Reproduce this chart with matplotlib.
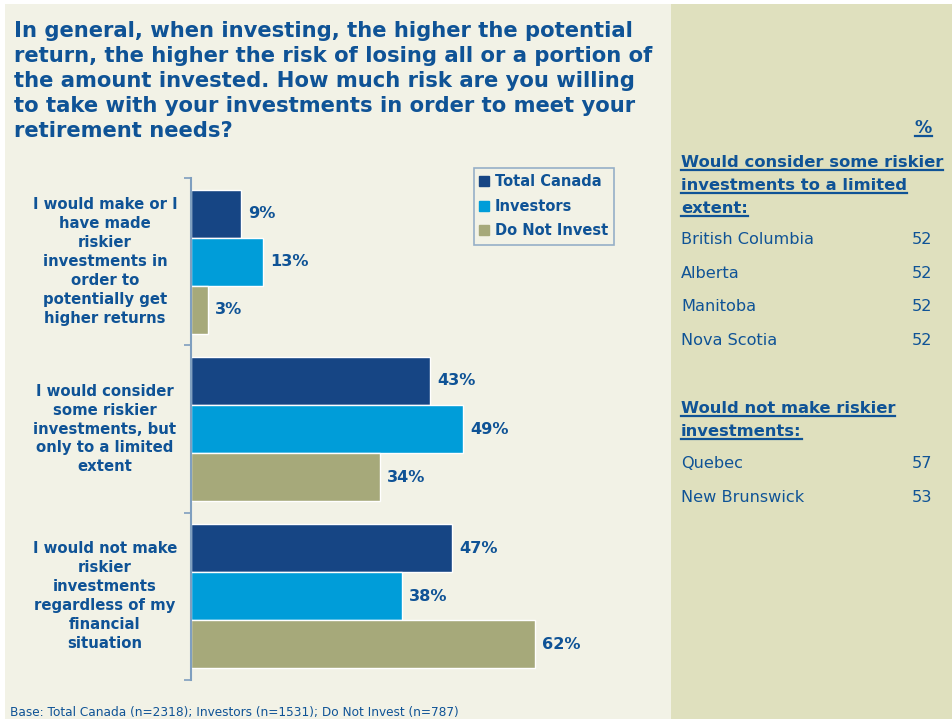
import matplotlib
matplotlib.use("Agg")
import matplotlib.pyplot as plt
import matplotlib.transforms as mtransforms
from matplotlib.patches import Rectangle
from matplotlib.lines import Line2D
import numpy as np

# ---- data ----
categories = [
    "I would make or I\nhave made\nriskier\ninvestments in\norder to\npotentially get\nhigher returns",
    "I would consider\nsome riskier\ninvestments, but\nonly to a limited\nextent",
    "I would not make\nriskier\ninvestments\nregardless of my\nfinancial\nsituation",
]
series_names = ["Total Canada", "Investors", "Do Not Invest"]
total_canada = [9, 43, 47]
investors = [13, 49, 38]
do_not_invest = [3, 34, 62]

title_lines = [
    "In general, when investing, the higher the potential",
    "return, the higher the risk of losing all or a portion of",
    "the amount invested. How much risk are you willing",
    "to take with your investments in order to meet your",
    "retirement needs?",
]
head1_lines = ["Would consider some riskier", "investments to a limited", "extent:"]
group1_regions = ["British Columbia", "Alberta", "Manitoba", "Nova Scotia"]
group1_values = [52, 52, 52, 52]
head2_lines = ["Would not make riskier", "investments:"]
group2_regions = ["Quebec", "New Brunswick"]
group2_values = [57, 53]
footnote = "Base: Total Canada (n=2318); Investors (n=1531); Do Not Invest (n=787)"

# ---- style ----
W, H = 953, 719
C_NAVY = "#164584"
C_BLUE = "#009DD9"
C_OLIVE = "#A6A97A"
C_TEXT = "#0F5396"
BG_LEFT = "#F2F2E6"
BG_RIGHT = "#DFE0BE"
SPINE = "#7F9FBF"

fig = plt.figure(figsize=(W / 100, H / 100), dpi=100)
fig.patch.set_facecolor("white")

def fx(px):
    return px / W

def fy(py):
    return 1 - py / H

# panels
fig.add_artist(Rectangle((fx(5), 0), fx(671) - fx(5), fy(4), transform=fig.transFigure,
                         facecolor=BG_LEFT, edgecolor="none", zorder=0))
fig.add_artist(Rectangle((fx(671), 0), fx(953) - fx(671), fy(4), transform=fig.transFigure,
                         facecolor=BG_RIGHT, edgecolor="none", zorder=0))

# axes
ax_left, ax_right, ax_top, ax_bot = 191, 670, 178, 680
ax = fig.add_axes([fx(ax_left), fy(ax_bot), fx(ax_right - ax_left), (ax_bot - ax_top) / H])
ax.set_facecolor("none")
px_per_pct = 5.55
ax.set_xlim(0, (ax_right - ax_left) / px_per_pct)
ax.set_ylim(len(categories) - 0.5, -0.5)

y = np.arange(len(categories))
bh = 0.287
series = [total_canada, investors, do_not_invest]
colors = [C_NAVY, C_BLUE, C_OLIVE]
offsets = [-bh, 0, bh]
for vals, col, off in zip(series, colors, offsets):
    ax.barh(y + off, vals, height=bh, color=col, edgecolor="white", linewidth=1.0, zorder=2)
    for yy, v in zip(y + off, vals):
        ax.text(v + 1.3, yy, f"{v}%", va="center", ha="left", fontsize=11.6,
                fontweight="bold", color=C_TEXT, family="DejaVu Sans")

for s in ["top", "right", "bottom"]:
    ax.spines[s].set_visible(False)
ax.spines["left"].set_color(SPINE)
ax.spines["left"].set_linewidth(1.5)
ax.set_xticks([])
ax.set_yticks(np.arange(-0.5, len(categories), 1.0))
ax.set_yticklabels([])
ax.tick_params(axis="y", length=5, color=SPINE, width=1.2, direction="out")

# category labels
blend = mtransforms.blended_transform_factory(fig.transFigure, ax.transData)
for yy, lab in zip(y, categories):
    ax.text(fx(105), yy, lab, transform=blend, ha="center", va="center",
            multialignment="center", fontsize=10.7, fontweight="bold", color=C_TEXT,
            linespacing=1.33, family="DejaVu Sans")

# title
for i, line in enumerate(title_lines):
    fig.text(fx(14), fy(37 + 25 * i), line, ha="left", va="baseline",
             fontsize=15.2, fontweight="bold", color=C_TEXT, family="DejaVu Sans")

# legend
handles = [Line2D([], [], marker="s", linestyle="none", markersize=6.5, color=c, markeredgecolor=c)
           for c in colors]
leg = fig.legend(handles, series_names, loc="upper left",
                 bbox_to_anchor=(fx(474), fy(168)), frameon=True, fancybox=False,
                 handlelength=0.6, handletextpad=0.4, borderpad=0.42, labelspacing=0.66,
                 borderaxespad=0.0,
                 prop={"family": "DejaVu Sans", "weight": "bold", "size": 10.5})
leg.get_frame().set_edgecolor(SPINE)
leg.get_frame().set_facecolor(BG_LEFT)
leg.get_frame().set_linewidth(1.2)
for t in leg.get_texts():
    t.set_color(C_TEXT)

# right panel
underlined = []
t = fig.text(fx(932), fy(133), "%", ha="right", va="baseline", fontsize=12.5,
             fontweight="bold", color=C_TEXT, family="DejaVu Sans")
underlined.append(t)
for i, line in enumerate(head1_lines):
    t = fig.text(fx(681), fy(167 + 23 * i), line, ha="left", va="baseline", fontsize=11.8,
                 fontweight="bold", color=C_TEXT, family="DejaVu Sans")
    underlined.append(t)
for i, (r, v) in enumerate(zip(group1_regions, group1_values)):
    yb = 244 + 33.7 * i
    fig.text(fx(681), fy(yb), r, ha="left", va="baseline", fontsize=11.6, color=C_TEXT,
             family="DejaVu Sans")
    fig.text(fx(932), fy(yb), str(v), ha="right", va="baseline", fontsize=11.6, color=C_TEXT,
             family="DejaVu Sans")
for i, line in enumerate(head2_lines):
    t = fig.text(fx(681), fy(413 + 23 * i), line, ha="left", va="baseline", fontsize=11.8,
                 fontweight="bold", color=C_TEXT, family="DejaVu Sans")
    underlined.append(t)
for i, (r, v) in enumerate(zip(group2_regions, group2_values)):
    yb = 468 + 33.7 * i
    fig.text(fx(681), fy(yb), r, ha="left", va="baseline", fontsize=11.6, color=C_TEXT,
             family="DejaVu Sans")
    fig.text(fx(932), fy(yb), str(v), ha="right", va="baseline", fontsize=11.6, color=C_TEXT,
             family="DejaVu Sans")

# footnote
fig.text(fx(10), fy(716), footnote, ha="left", va="baseline", fontsize=8.75, color=C_TEXT,
         family="DejaVu Sans")

# underlines
fig.canvas.draw()
renderer = fig.canvas.get_renderer()
inv = fig.transFigure.inverted()
for t in underlined:
    bb = t.get_window_extent(renderer)
    x0, _ = inv.transform((bb.x0, 0))
    x1, _ = inv.transform((bb.x1, 0))
    _, yb = t.get_position()
    yl = yb - 3.0 / H
    fig.add_artist(Line2D([x0, x1], [yl, yl], transform=fig.transFigure, color=C_TEXT,
                          linewidth=1.6))

fig.savefig("out.png", dpi=100, facecolor=fig.get_facecolor())
